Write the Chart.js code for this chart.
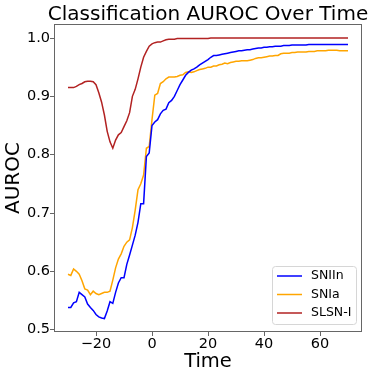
<!DOCTYPE html>
<html>
<head>
<meta charset="utf-8">
<script src="https://cdn.jsdelivr.net/npm/chart.js@4.4.0/dist/chart.umd.min.js"></script>
<style>
  html, body { margin: 0; padding: 0; background: #fff; }
  #wrap { width: 374px; height: 376px; }
</style>
</head>
<body>
<div id="wrap"><canvas id="auroc" width="374" height="376"></canvas></div>
<script>
// time axis (days)
const times = [
  -30,-29,-28,-27,-26,-25,-24,-23,-22,-21,
  -20,-19,-18,-17,-16,-15,-14,-13,-12,-11,
  -10,-9,-8,-7,-6,-5,-4,-3,-2,-1,
  0,1,2,3,4,5,6,7,8,9,
  10,11,12,13,14,15,16,17,18,19,
  20,21,22,23,24,25,26,27,28,29,
  30,31,32,33,34,35,36,37,38,39,
  40,41,42,43,44,45,46,47,48,49,
  50,51,52,53,54,55,56,57,58,59,
  60,61,62,63,64,65,66,67,68,69,
  70
];
const sniin = [
  0.538,0.538,0.546,0.548,0.564,0.560,0.556,0.544,0.538,0.533,
  0.526,0.522,0.520,0.519,0.532,0.548,0.545,0.564,0.580,0.589,
  0.589,0.612,0.628,0.645,0.662,0.684,0.716,0.716,0.797,0.803,
  0.850,0.856,0.860,0.870,0.876,0.878,0.889,0.893,0.900,0.910,
  0.920,0.928,0.936,0.941,0.945,0.947,0.950,0.954,0.957,0.960,
  0.963,0.967,0.970,0.970,0.971,0.972,0.973,0.974,0.975,0.976,
  0.977,0.978,0.978,0.979,0.980,0.980,0.981,0.982,0.983,0.983,
  0.984,0.984,0.985,0.985,0.986,0.986,0.986,0.987,0.987,0.987,
  0.988,0.988,0.988,0.988,0.988,0.988,0.989,0.989,0.989,0.989,
  0.989,0.989,0.989,0.989,0.989,0.989,0.989,0.989,0.989,0.989,
  0.989
];
const snia = [
  0.595,0.593,0.604,0.600,0.595,0.584,0.570,0.568,0.560,0.566,
  0.562,0.560,0.562,0.564,0.564,0.566,0.585,0.606,0.621,0.630,
  0.643,0.650,0.654,0.675,0.705,0.740,0.750,0.765,0.811,0.814,
  0.860,0.902,0.905,0.922,0.925,0.930,0.933,0.933,0.933,0.934,
  0.936,0.937,0.941,0.942,0.941,0.942,0.944,0.946,0.947,0.948,
  0.950,0.950,0.952,0.952,0.954,0.955,0.957,0.956,0.958,0.959,
  0.960,0.960,0.961,0.961,0.961,0.962,0.963,0.965,0.966,0.966,
  0.967,0.968,0.969,0.969,0.970,0.970,0.973,0.974,0.974,0.974,
  0.975,0.975,0.976,0.976,0.976,0.976,0.977,0.977,0.977,0.978,
  0.978,0.978,0.978,0.979,0.979,0.979,0.979,0.978,0.978,0.978,
  0.978
];
const slsn = [
  0.915,0.915,0.915,0.917,0.920,0.922,0.925,0.926,0.926,0.925,
  0.920,0.906,0.890,0.868,0.840,0.822,0.811,0.825,0.834,0.838,
  0.848,0.858,0.872,0.900,0.912,0.930,0.950,0.967,0.977,0.986,
  0.990,0.992,0.993,0.993,0.995,0.997,0.998,0.998,0.998,0.999,
  0.999,0.999,0.999,0.999,0.999,0.999,0.999,0.999,0.999,0.999,
  0.999,1.000,1.000,1.000,1.000,1.000,1.000,1.000,1.000,1.000,
  1.000,1.000,1.000,1.000,1.000,1.000,1.000,1.000,1.000,1.000,
  1.000,1.000,1.000,1.000,1.000,1.000,1.000,1.000,1.000,1.000,
  1.000,1.000,1.000,1.000,1.000,1.000,1.000,1.000,1.000,1.000,
  1.000,1.000,1.000,1.000,1.000,1.000,1.000,1.000,1.000,1.000,
  1.000
];
const xTicks = [-20, 0, 20, 40, 60];
const yTicks = [0.5, 0.6, 0.7, 0.8, 0.9, 1.0];
const seriesNames = ['SNIIn', 'SNIa', 'SLSN-I'];
const seriesColors = ['#0000ff', '#ffa500', '#b22222'];

const FONT = "'DejaVu Sans', sans-serif";
const spine = 'rgba(0,0,0,0.6)';

const pts = arr => arr.map((v, i) => ({ x: times[i], y: v }));

// frame + title + legend, matplotlib style
const decor = {
  id: 'decor',
  afterDatasetsDraw(chart) {
    const { ctx, chartArea: a } = chart;
    ctx.save();
    ctx.strokeStyle = spine;
    ctx.lineWidth = 1;
    ctx.strokeRect(Math.round(a.left) + 0.5, Math.round(a.top) + 0.5,
      Math.round(a.right - a.left) - 1, Math.round(a.bottom - a.top) - 1);

    // legend, lower right
    const bw = 84, bh = 58;
    const bx = a.right - 6 - bw, by = a.bottom - 8 - bh;
    ctx.beginPath();
    ctx.roundRect(bx + 0.5, by + 0.5, bw, bh, 3);
    ctx.fillStyle = 'rgba(255,255,255,0.85)';
    ctx.fill();
    ctx.strokeStyle = '#d6d6d6';
    ctx.stroke();
    ctx.font = '12.5px ' + FONT;
    ctx.textBaseline = 'middle';
    ctx.textAlign = 'left';
    seriesNames.forEach((n, i) => {
      const yy = by + 10 + i * 18.5;
      ctx.strokeStyle = seriesColors[i];
      ctx.lineWidth = 1.5;
      ctx.beginPath();
      ctx.moveTo(bx + 5, yy);
      ctx.lineTo(bx + 30, yy);
      ctx.stroke();
      ctx.fillStyle = '#000';
      ctx.fillText(n, bx + 39, yy);
    });

    ctx.font = '20px ' + FONT;
    ctx.textAlign = 'center';
    ctx.textBaseline = 'alphabetic';
    ctx.fillStyle = '#000';
    ctx.fillText('Classification AUROC Over Time', (a.left + a.right) / 2, 20);
    ctx.restore();
  }
};

new Chart(document.getElementById('auroc').getContext('2d'), {
  type: 'line',
  data: {
    datasets: [
      { label: seriesNames[0], data: pts(sniin), borderColor: seriesColors[0] },
      { label: seriesNames[1], data: pts(snia), borderColor: seriesColors[1] },
      { label: seriesNames[2], data: pts(slsn), borderColor: seriesColors[2] }
    ]
  },
  options: {
    responsive: false,
    animation: false,
    devicePixelRatio: 1,
    layout: { padding: { top: 24, right: 12, left: 0, bottom: 0 } },
    elements: {
      point: { radius: 0, hoverRadius: 0 },
      line: { borderWidth: 1.5, tension: 0, fill: false }
    },
    plugins: { legend: { display: false }, tooltip: { enabled: false }, title: { display: false } },
    scales: {
      x: {
        type: 'linear', min: -35, max: 75,
        afterBuildTicks: s => { s.ticks = xTicks.map(v => ({ value: v })); },
        afterFit: s => { s.height = 44; },
        border: { display: false },
        grid: { drawOnChartArea: false, drawTicks: true, tickLength: 4, color: spine },
        ticks: { color: '#000', font: { family: FONT, size: 14.5 }, padding: 0, maxRotation: 0,
                 callback: v => String(v).replace('-', '\u2212') },
        title: { display: true, text: 'Time', color: '#000', font: { family: FONT, size: 19.5 },
                 padding: { top: 0, bottom: 2 } }
      },
      y: {
        min: 0.496, max: 1.024,
        afterBuildTicks: s => { s.ticks = yTicks.map(v => ({ value: v })); },
        afterFit: s => { s.width = 54; },
        border: { display: false },
        grid: { drawOnChartArea: false, drawTicks: true, tickLength: 4, color: spine },
        ticks: { color: '#000', font: { family: FONT, size: 14.5 }, padding: 0,
                 callback: v => Number(v).toFixed(1) },
        title: { display: true, text: 'AUROC', color: '#000', font: { family: FONT, size: 20 },
                 padding: { top: 1.5, bottom: 0 } }
      }
    }
  },
  plugins: [decor]
});
</script>
</body>
</html>
